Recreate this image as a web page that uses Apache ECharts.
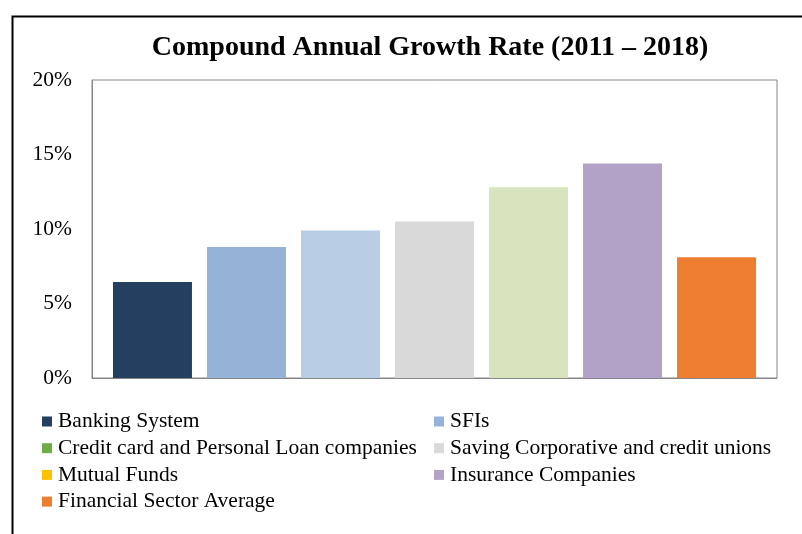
<!DOCTYPE html>
<html>
<head>
<meta charset="utf-8">
<script src="https://cdn.jsdelivr.net/npm/echarts@6/dist/echarts.min.js"></script>
<style>html,body{margin:0;padding:0;background:#fff}#c{width:802px;height:534px}</style>
</head>
<body>
<div id="c"></div>
<script>
var seriesNames = ['Banking System','SFIs','Credit card and Personal Loan companies','Saving Corporative and credit unions','Mutual Funds','Insurance Companies','Financial Sector Average'];
var seriesValues = [6.45, 8.8, 9.9, 10.5, 12.8, 14.4, 8.1];
var barColors = ['#243F60','#95B3D7','#B9CDE5','#D9D9D9','#D7E4BD','#B3A2C7','#ED7D31'];
var legendColors = ['#243F60','#95B3D7','#70AD47','#D9D9D9','#FFC000','#B3A2C7','#ED7D31'];
var categories = [''];
var yTicks = {min: 0, max: 20, interval: 5};

var chart = echarts.init(document.getElementById('c'));
var font = '"Liberation Serif", "Times New Roman", serif';
var series = seriesNames.map(function (n, i) {
  return {
    name: n, type: 'bar', data: [seriesValues[i]],
    barWidth: 79, barGap: '19%',
    itemStyle: {color: barColors[i]},
    emphasis: {disabled: true}
  };
});
function legendData(idx) {
  return idx.map(function (i) { return {name: seriesNames[i], itemStyle: {color: legendColors[i]}}; });
}
var legendCommon = {
  orient: 'vertical', itemWidth: 10, itemHeight: 10, itemGap: 4.7,
  icon: 'rect', selectedMode: false, padding: 0,
  textStyle: {fontFamily: font, fontSize: 21.5, color: '#000', lineHeight: 22, padding: [0,0,0,1]}
};
chart.setOption({
  animation: false,
  title: {
    text: 'Compound Annual Growth Rate (2011 – 2018)',
    left: 425, textAlign: 'center', top: 29,
    textStyle: {fontFamily: font, fontWeight: 'bold', fontSize: 28, color: '#000'}
  },
  graphic: [{
    type: 'rect', shape: {x: 12.5, y: 16.5, width: 900, height: 700},
    style: {fill: 'none', stroke: '#000', lineWidth: 2}, silent: true
  }],
  grid: {left: 92, top: 80, right: 25, bottom: 156, show: true, borderColor: '#868686', borderWidth: 1},
  legend: [
    Object.assign({left: 42, top: 410.5, data: legendData([0,2,4,6])}, legendCommon),
    Object.assign({left: 434, top: 410.5, data: legendData([1,3,5])}, legendCommon)
  ],
  xAxis: {
    type: 'category', data: categories,
    axisLine: {lineStyle: {color: '#868686'}},
    axisTick: {show: false}, axisLabel: {show: false}
  },
  yAxis: {
    type: 'value', min: yTicks.min, max: yTicks.max, interval: yTicks.interval,
    axisLine: {show: true, lineStyle: {color: '#868686'}},
    axisTick: {show: false}, splitLine: {show: false},
    axisLabel: {formatter: '{value}%', margin: 20, fontFamily: font, fontSize: 21.5, color: '#000'}
  },
  series: series
});
</script>
</body>
</html>
